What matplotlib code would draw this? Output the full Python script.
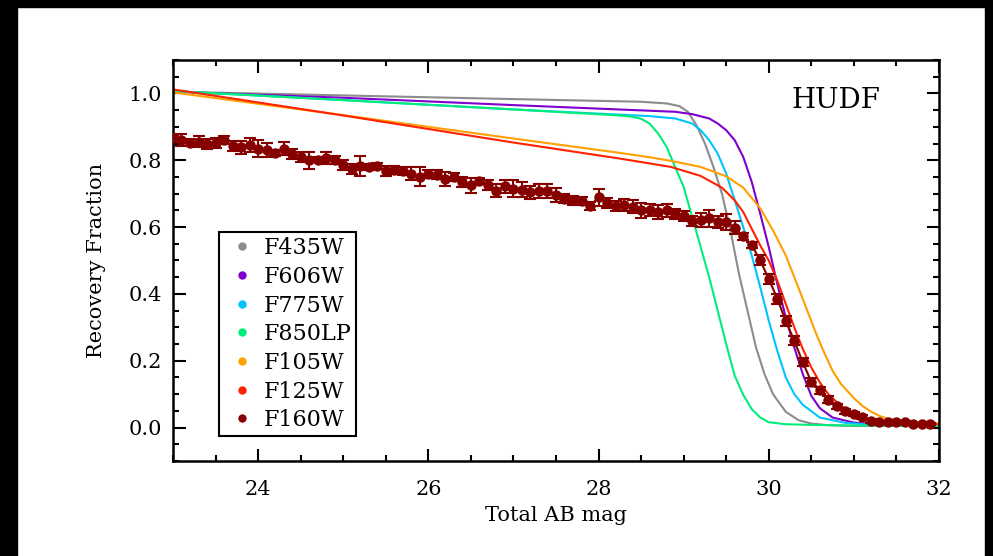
import matplotlib
matplotlib.use("Agg")
import matplotlib.pyplot as plt
from matplotlib.lines import Line2D
from matplotlib.patches import Rectangle
from matplotlib.ticker import MultipleLocator

plt.rcParams['font.family'] = ['DejaVu Serif']

# F160W recovery fraction measurements (bins of 0.1 mag)
mag160 = [23.0 + 0.1 * i for i in range(90)]
frac160 = [0.868, 0.861, 0.853, 0.856, 0.848, 0.851, 0.860, 0.843, 0.839, 0.846,
           0.835, 0.831, 0.822, 0.835, 0.818, 0.810, 0.800, 0.802, 0.807, 0.800,
           0.785, 0.774, 0.782, 0.780, 0.783, 0.767, 0.770, 0.768, 0.760, 0.751,
           0.760, 0.757, 0.744, 0.750, 0.735, 0.725, 0.738, 0.727, 0.709, 0.722,
           0.715, 0.712, 0.704, 0.708, 0.708, 0.696, 0.685, 0.680, 0.679, 0.663,
           0.689, 0.673, 0.663, 0.666, 0.661, 0.650, 0.652, 0.645, 0.650, 0.640,
           0.634, 0.619, 0.621, 0.626, 0.615, 0.615, 0.598, 0.572, 0.546, 0.500,
           0.445, 0.386, 0.319, 0.260, 0.195, 0.137, 0.111, 0.083, 0.064, 0.049,
           0.041, 0.031, 0.020, 0.016, 0.016, 0.016, 0.016, 0.011, 0.011, 0.011]
err160 = [0.008, 0.018, 0.010, 0.017, 0.015, 0.015, 0.012, 0.015, 0.020, 0.020,
          0.025, 0.020, 0.008, 0.020, 0.015, 0.015, 0.025, 0.008, 0.017, 0.012,
          0.015, 0.015, 0.030, 0.008, 0.008, 0.015, 0.012, 0.012, 0.020, 0.028,
          0.012, 0.014, 0.020, 0.012, 0.015, 0.023, 0.010, 0.015, 0.020, 0.020,
          0.025, 0.023, 0.020, 0.020, 0.020, 0.020, 0.013, 0.014, 0.012, 0.012,
          0.025, 0.015, 0.015, 0.018, 0.020, 0.022, 0.018, 0.020, 0.020, 0.015,
          0.015, 0.015, 0.020, 0.025, 0.018, 0.025, 0.020, 0.010, 0.010, 0.015,
          0.015, 0.015, 0.015, 0.013, 0.012, 0.012, 0.010, 0.010, 0.008, 0.008,
          0.006, 0.006, 0.005, 0.005, 0.004, 0.004, 0.004, 0.004, 0.004, 0.004]

# completeness curves for the other filters
mag435 = [23.0, 25.0, 27.0, 28.5, 28.8, 28.95, 29.05, 29.15, 29.25, 29.35, 29.45, 29.55,
          29.65, 29.75, 29.85, 29.95, 30.05, 30.2, 30.35, 30.5, 30.7, 31.0, 31.5, 32.0]
frac435 = [1.005, 0.994, 0.983, 0.975, 0.970, 0.962, 0.945, 0.905, 0.850, 0.780, 0.700, 0.590,
           0.460, 0.350, 0.240, 0.160, 0.100, 0.047, 0.022, 0.012, 0.007, 0.005, 0.005, 0.005]

mag606 = [23.0, 25.0, 27.0, 28.9, 29.1, 29.3, 29.4, 29.5, 29.6, 29.7, 29.8, 29.9, 30.0,
          30.1, 30.2, 30.3, 30.4, 30.5, 30.6, 30.75, 31.0, 31.3, 32.0]
frac606 = [1.005, 0.987, 0.965, 0.945, 0.938, 0.925, 0.910, 0.890, 0.860, 0.810, 0.735, 0.640, 0.540,
           0.430, 0.330, 0.240, 0.160, 0.095, 0.058, 0.030, 0.015, 0.008, 0.005]

mag775 = [23.0, 25.0, 27.0, 28.6, 28.9, 29.1, 29.2, 29.3, 29.4, 29.5, 29.6, 29.7, 29.8,
          29.9, 30.0, 30.1, 30.2, 30.3, 30.4, 30.6, 30.9, 31.3, 32.0]
frac775 = [1.007, 0.980, 0.952, 0.932, 0.925, 0.910, 0.890, 0.860, 0.820, 0.760, 0.680, 0.600, 0.515,
           0.420, 0.320, 0.230, 0.150, 0.100, 0.068, 0.030, 0.014, 0.007, 0.005]

mag850 = [23.0, 25.0, 27.0, 28.25, 28.4, 28.5, 28.6, 28.7, 28.8, 28.9, 29.0, 29.1, 29.2,
          29.3, 29.4, 29.5, 29.6, 29.7, 29.8, 29.9, 30.0, 30.2, 30.5, 31.0, 32.0]
frac850 = [1.007, 0.980, 0.952, 0.934, 0.930, 0.924, 0.910, 0.880, 0.840, 0.780, 0.720, 0.630, 0.540,
           0.450, 0.350, 0.250, 0.155, 0.098, 0.055, 0.030, 0.016, 0.010, 0.008, 0.006, 0.005]

mag105 = [23.0, 25.0, 27.0, 28.25, 28.6, 28.85, 29.2, 29.5, 29.7, 29.9, 30.05, 30.2, 30.3,
          30.4, 30.55, 30.65, 30.75, 30.85, 31.0, 31.1, 31.2, 31.3, 31.4, 31.7, 32.0]
frac105 = [1.003, 0.935, 0.865, 0.822, 0.809, 0.798, 0.780, 0.752, 0.718, 0.656, 0.590, 0.515, 0.450,
           0.385, 0.285, 0.225, 0.170, 0.130, 0.088, 0.065, 0.048, 0.035, 0.026, 0.016, 0.013]

mag125 = [23.0, 25.0, 27.0, 28.25, 28.85, 29.2, 29.45, 29.6, 29.7, 29.8, 29.9, 30.0, 30.1,
          30.2, 30.3, 30.4, 30.5, 30.6, 30.7, 30.85, 31.0, 31.15, 31.3, 31.6, 32.0]
frac125 = [1.012, 0.934, 0.853, 0.805, 0.780, 0.753, 0.718, 0.680, 0.645, 0.595, 0.545, 0.500, 0.440,
           0.370, 0.300, 0.235, 0.180, 0.135, 0.100, 0.064, 0.042, 0.028, 0.020, 0.013, 0.010]

filters = ['F435W', 'F606W', 'F775W', 'F850LP', 'F105W', 'F125W', 'F160W']
colors = ['#8c8c8c', '#7f00cc', '#00c3ff', '#00ee77', '#ffa000', '#ff2200', '#870000']

fig = plt.figure(figsize=(9.93, 5.56), dpi=100)
ax = fig.add_axes([0.1742, 0.1709, 0.7714, 0.7212])

curves = [(mag435, frac435), (mag606, frac606), (mag775, frac775), (mag850, frac850),
          (mag105, frac105), (mag125, frac125)]
for (mx, fy), c in zip(curves, colors[:6]):
    ax.plot(mx, fy, color=c, lw=1.5)

ax.plot(mag160, frac160, color=colors[6], lw=1.5)
ax.errorbar(mag160, frac160, yerr=err160, fmt='o', color=colors[6], ms=6.5,
            ecolor=colors[6], elinewidth=1.5, capsize=4.5, capthick=1.5, zorder=5)

ax.set_xlim(23, 32)
ax.set_ylim(-0.1, 1.1)
ax.xaxis.set_major_locator(MultipleLocator(2))
ax.xaxis.set_minor_locator(MultipleLocator(0.5))
ax.yaxis.set_major_locator(MultipleLocator(0.2))
ax.yaxis.set_minor_locator(MultipleLocator(0.05))
ax.yaxis.set_major_formatter(matplotlib.ticker.FormatStrFormatter('%.1f'))
ax.tick_params(which='both', direction='in', top=True, right=True, width=1.5)
ax.tick_params(which='major', length=9, labelsize=15)
ax.tick_params(which='minor', length=4.5)
ax.tick_params(axis='x', pad=14)
ax.tick_params(axis='y', pad=8)
for s in ax.spines.values():
    s.set_linewidth(1.8)

ax.set_xlabel('Total AB mag', fontsize=15, labelpad=5)
ax.set_ylabel('Recovery Fraction', fontsize=15, labelpad=16)
ax.text(0.866, 0.90, 'HUDF', transform=ax.transAxes, fontsize=20, ha='center', va='center')

handles = [Line2D([], [], ls='none', marker='o', ms=5, color=c) for c in colors]
leg = ax.legend(handles, filters, loc='lower left', bbox_to_anchor=(0.060, 0.062),
                fontsize=16, frameon=True, fancybox=False, edgecolor='black',
                framealpha=1, handlelength=1.6, handletextpad=0.2,
                labelspacing=0.3, borderaxespad=0, borderpad=0.22)
leg.get_frame().set_linewidth(1.5)

# black screen border
fig.patches.append(Rectangle((0, 1 - 7 / 556), 1, 7 / 556, transform=fig.transFigure,
                             color='black', zorder=10))
fig.patches.append(Rectangle((0, 0), 17 / 993, 1, transform=fig.transFigure,
                             color='black', zorder=10))
fig.patches.append(Rectangle((985 / 993, 0), 8 / 993, 1, transform=fig.transFigure,
                             color='black', zorder=10))

fig.savefig('out.png', dpi=100)
